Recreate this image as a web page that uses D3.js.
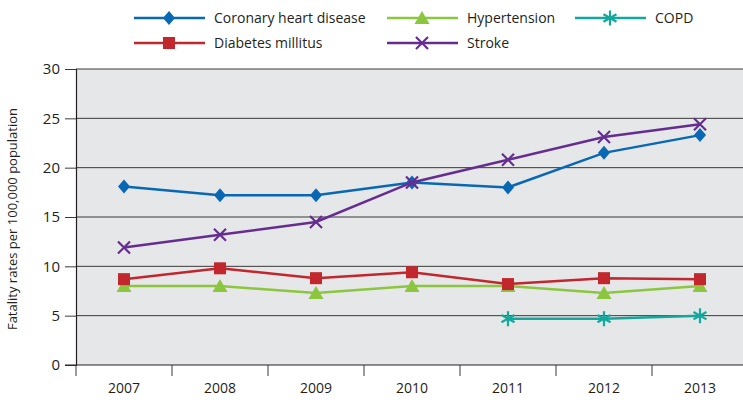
<!DOCTYPE html>
<html>
<head>
<meta charset="utf-8">
<script src="https://cdn.jsdelivr.net/npm/d3@7"></script>
<style>
  body { margin: 0; background: #fff; }
  text { font-family: "Open Sans", sans-serif; fill: #231f20; }
</style>
</head>
<body>
<div id="chart"></div>
<script>
// Data
var years = ["2007", "2008", "2009", "2010", "2011", "2012", "2013"];
var coronary = [18.1, 17.2, 17.2, 18.5, 18.0, 21.5, 23.3];
var diabetes = [8.7, 9.8, 8.8, 9.4, 8.2, 8.8, 8.7];
var hypertension = [8.0, 8.0, 7.3, 8.0, 8.0, 7.3, 8.0];
var stroke = [11.9, 13.2, 14.5, 18.5, 20.8, 23.1, 24.4];
var copd = [null, null, null, null, 4.7, 4.7, 5.0];
var yTicks = [0, 5, 10, 15, 20, 25, 30];

var series = [
  {name: "Coronary heart disease", values: coronary, color: "#0868b4", marker: "diamond"},
  {name: "Diabetes millitus", values: diabetes, color: "#c1272d", marker: "square"},
  {name: "Hypertension", values: hypertension, color: "#8cc63f", marker: "triangle"},
  {name: "Stroke", values: stroke, color: "#662d91", marker: "cross"},
  {name: "COPD", values: copd, color: "#12a89d", marker: "asterisk"}
];

var w = 743, h = 405;
var margin = {left: 76, top: 69, bottom: 40};
var plotRight = 748;

var svg = d3.select("#chart").append("svg")
  .attr("width", w).attr("height", h);

var x = d3.scaleBand().domain(years).range([margin.left, plotRight]);
var y = d3.scaleLinear().domain([0, 30]).range([h - margin.bottom, margin.top]);

// plot background
svg.append("rect")
  .attr("x", margin.left).attr("y", y(30))
  .attr("width", w - margin.left).attr("height", y(0) - y(30))
  .attr("fill", "#e6e7e8");

// gridlines
svg.append("g").selectAll("line")
  .data(yTicks.filter(d => d > 0))
  .enter().append("line")
  .attr("x1", margin.left).attr("x2", w)
  .attr("y1", d => y(d)).attr("y2", d => y(d))
  .attr("stroke", "#3a3a3a").attr("stroke-width", 1);

// y axis
var yAxis = svg.append("g")
  .attr("transform", "translate(" + margin.left + ",0)")
  .call(d3.axisLeft(y).tickValues(yTicks).tickSize(11).tickPadding(5));
yAxis.select(".domain").attr("stroke", "#231f20").attr("stroke-width", 1.2);
yAxis.selectAll(".tick line").attr("stroke", "#3a3a3a");
yAxis.selectAll("text").style("font-size", "15px").style("fill", "#231f20");

// x axis
var xAxis = svg.append("g")
  .attr("transform", "translate(0," + y(0) + ")")
  .call(d3.axisBottom(x).tickSize(0).tickPadding(18));
xAxis.select(".domain").remove();
xAxis.selectAll("text").style("font-size", "14px").style("fill", "#231f20");
svg.append("line")
  .attr("x1", margin.left - 11).attr("x2", w)
  .attr("y1", y(0)).attr("y2", y(0))
  .attr("stroke", "#231f20").attr("stroke-width", 1.2);
svg.append("g").selectAll("line")
  .data(years)
  .enter().append("line")
  .attr("x1", d => x(d)).attr("x2", d => x(d))
  .attr("y1", y(0)).attr("y2", y(0) + 11)
  .attr("stroke", "#3a3a3a");

// y title
svg.append("text")
  .attr("transform", "translate(17," + (y(15) + 2) + ") rotate(-90)")
  .attr("text-anchor", "middle")
  .style("font-size", "13px")
  .text("Fatality rates per 100,000 population");

// markers
function drawMarker(g, type, color) {
  if (type == "diamond") {
    g.append("path").attr("d", "M0,-7L6,0L0,7L-6,0Z").attr("fill", color);
  } else if (type == "square") {
    g.append("rect").attr("x", -6).attr("y", -6).attr("width", 12).attr("height", 12).attr("fill", color);
  } else if (type == "triangle") {
    g.append("path").attr("d", "M0,-7L7.5,6L-7.5,6Z").attr("fill", color);
  } else if (type == "cross") {
    g.append("path").attr("d", "M-6,-6L6,6M-6,6L6,-6").attr("stroke", color).attr("stroke-width", 2.2);
  } else if (type == "asterisk") {
    g.append("path").attr("d", "M0,-7.5L0,7.5M-6.5,-3.7L6.5,3.7M-6.5,3.7L6.5,-3.7")
      .attr("stroke", color).attr("stroke-width", 2.2);
  }
}

var line = d3.line()
  .defined(d => d.v != null)
  .x(d => x(d.year) + x.bandwidth() / 2)
  .y(d => y(d.v));

// draw order: lower lines first
var order = [4, 2, 1, 0, 3];
order.forEach(function(i) {
  var s = series[i];
  var pts = years.map((yr, j) => ({year: yr, v: s.values[j]}));
  svg.append("path")
    .datum(pts)
    .attr("d", line)
    .attr("fill", "none")
    .attr("stroke", s.color)
    .attr("stroke-width", 2.5);
  pts.filter(d => d.v != null).forEach(function(d) {
    var g = svg.append("g")
      .attr("transform", "translate(" + (x(d.year) + x.bandwidth() / 2) + "," + y(d.v) + ")");
    drawMarker(g, s.marker, s.color);
  });
});

// legend
var legendItems = [
  {s: 0, lx: 134, ly: 18},
  {s: 2, lx: 387, ly: 18},
  {s: 4, lx: 575, ly: 18},
  {s: 1, lx: 134, ly: 43},
  {s: 3, lx: 387, ly: 43}
];
var legend = svg.append("g").attr("class", "legend");
legendItems.forEach(function(it) {
  var s = series[it.s];
  var g = legend.append("g").attr("transform", "translate(" + it.lx + "," + it.ly + ")");
  g.append("line").attr("x1", 0).attr("x2", 71).attr("y1", 0).attr("y2", 0)
    .attr("stroke", s.color).attr("stroke-width", 2.5);
  var m = g.append("g").attr("transform", "translate(35,0)");
  drawMarker(m, s.marker, s.color);
  g.append("text").attr("x", 80).attr("y", 0).attr("dy", "0.35em")
    .style("font-size", "14px")
    .text(s.name);
});
</script>
</body>
</html>
